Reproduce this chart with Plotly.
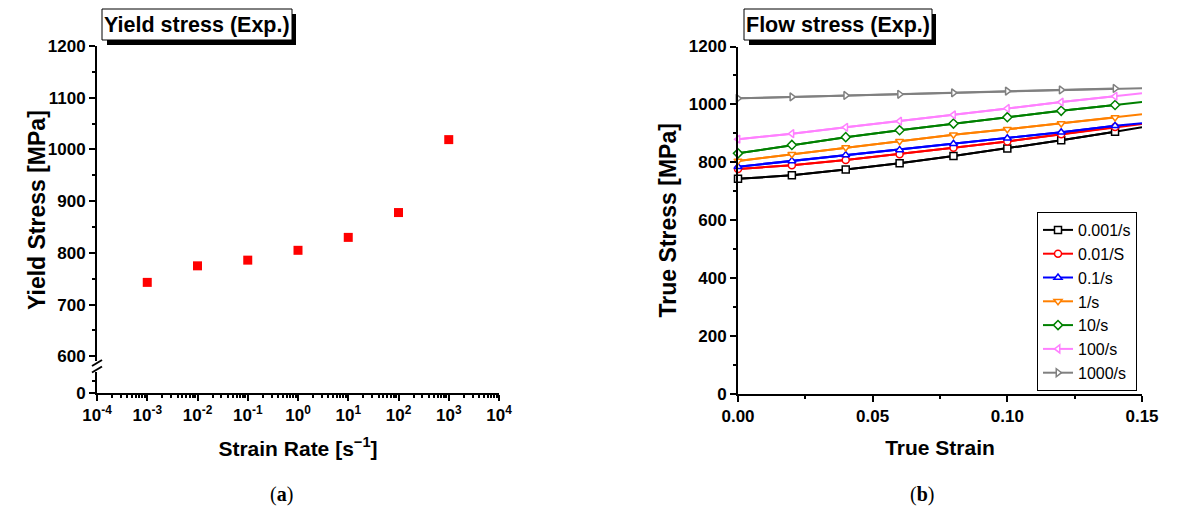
import plotly.graph_objects as go

# ---------------- data ----------------
strain_rates = [1e-3, 1e-2, 1e-1, 1, 10, 100, 1000]
yield_stress = [743, 775, 786, 805, 830, 878, 1019]

true_strain = [0.0, 0.02, 0.04, 0.06, 0.08, 0.10, 0.12, 0.14, 0.15]
flow_0001 = [743, 755, 775, 797, 822, 848, 876, 906, 921]
flow_001 = [777, 790, 808, 828, 850, 872, 897, 922, 932]
flow_01 = [785, 805, 825, 843, 864, 883, 904, 926, 935]
flow_1 = [805, 828, 851, 873, 895, 914, 934, 955, 966]
flow_10 = [831, 860, 887, 911, 934, 956, 978, 998, 1008]
flow_100 = [880, 899, 921, 942, 964, 986, 1008, 1028, 1039]
flow_1000 = [1021, 1026, 1031, 1035, 1040, 1046, 1050, 1055, 1056]

series_names = ["0.001/s", "0.01/S", "0.1/s", "1/s", "10/s", "100/s", "1000/s"]
series_values = [flow_0001, flow_001, flow_01, flow_1, flow_10, flow_100, flow_1000]
series_colors = ["#000000", "#FF0000", "#0000FF", "#FF8000", "#008000", "#FF80FF", "#808080"]
series_symbols = ["square", "circle", "triangle-up", "triangle-down", "diamond",
                  "triangle-left", "triangle-right"]

log_tickvals = [1e-4, 1e-3, 1e-2, 1e-1, 1, 10, 100, 1000, 1e4]
log_ticktext = ["10<sup>-4</sup>", "10<sup>-3</sup>", "10<sup>-2</sup>", "10<sup>-1</sup>",
                "10<sup>0</sup>", "10<sup>1</sup>", "10<sup>2</sup>", "10<sup>3</sup>",
                "10<sup>4</sup>"]

# ---------------- layout helpers ----------------
W, H = 1199, 510
def px(x):
    return x / W
def py(y):
    return 1 - y / H

FONT = "Liberation Sans, Arial, sans-serif"
tickfont = dict(family=FONT, size=17, color="black", weight="bold")
xtitlefont = dict(family=FONT, size=21, color="black", weight="bold")
ytitlefont = dict(family=FONT, size=23, color="black", weight="bold")

fig = go.Figure()

# left panel: yield stress (upper, broken segment of the y axis)
fig.add_trace(go.Scatter(
    x=strain_rates, y=yield_stress, mode="markers", xaxis="x", yaxis="y2",
    marker=dict(symbol="square", size=9, color="#FF0000"), showlegend=False,
    cliponaxis=False))
# invisible anchor trace so the lower (0) segment of the broken axis is drawn
fig.add_trace(go.Scatter(
    x=[strain_rates[0]], y=[0], mode="markers", xaxis="x", yaxis="y",
    marker=dict(opacity=0), showlegend=False, hoverinfo="skip"))

# right panel: flow stress
n_mark = len(true_strain) - 1
for name, vals, col, sym in zip(series_names, series_values, series_colors, series_symbols):
    fig.add_trace(go.Scatter(
        x=true_strain, y=vals, mode="lines", xaxis="x3", yaxis="y3",
        line=dict(color=col, width=2), showlegend=False, hoverinfo="skip"))
    fig.add_trace(go.Scatter(
        x=true_strain[:n_mark], y=vals[:n_mark], mode="lines+markers", name=name,
        xaxis="x3", yaxis="y3", line=dict(color=col, width=2),
        marker=dict(symbol=sym, size=7, color="white", line=dict(color=col, width=1.5)),
        cliponaxis=False))

axis_common = dict(showgrid=False, zeroline=False, showline=True, linecolor="black",
                   linewidth=2, ticks="outside", ticklen=6, tickwidth=2, tickcolor="black",
                   tickfont=tickfont, mirror=False, automargin=False)
minor_common = dict(ticks="outside", ticklen=3, tickwidth=1.5, tickcolor="black")

fig.update_layout(
    width=W, height=H, margin=dict(l=0, r=0, t=0, b=0, autoexpand=False),
    paper_bgcolor="white", plot_bgcolor="white",
    xaxis=dict(type="log", domain=[px(97), px(499)], range=[-4, 4], anchor="y",
               tickvals=log_tickvals, ticktext=log_ticktext,
               minor=dict(dtick="D1", **minor_common),
               title=dict(text="Strain Rate [s<sup>−1</sup>]", font=xtitlefont, standoff=17),
               **axis_common),
    yaxis=dict(domain=[py(393), py(371.5)], range=[0, 44], anchor="x",
               tickvals=[0], ticktext=["0"],
               minor=dict(tickvals=[25], **minor_common),
               **axis_common),
    yaxis2=dict(domain=[py(361), py(46)], range=[591, 1200], anchor="x",
                tickvals=[600, 700, 800, 900, 1000, 1100, 1200],
                minor=dict(dtick=50, **minor_common),
                **axis_common),
    xaxis3=dict(domain=[px(738), px(1142)], range=[0, 0.15], anchor="y3",
                tickvals=[0, 0.05, 0.10, 0.15], tickformat=".2f",
                minor=dict(dtick=0.025, **minor_common),
                title=dict(text="True Strain", font=xtitlefont, standoff=15),
                **axis_common),
    yaxis3=dict(domain=[py(394), py(46.5)], range=[0, 1200], anchor="x3",
                dtick=200,
                minor=dict(dtick=100, **minor_common),
                title=dict(text="True Stress [MPa]", font=ytitlefont, standoff=6),
                **axis_common),
    legend=dict(x=px(1037), y=py(212), xanchor="left", yanchor="top",
                bgcolor="white", bordercolor="black", borderwidth=1,
                font=dict(family=FONT, size=16, color="black"),
                tracegroupgap=0, itemwidth=30),
)

shapes = []
annotations = []

# y-axis title for left panel (spans both segments)
annotations.append(dict(text="Yield Stress [MPa]", x=px(22), y=py(210), xref="paper",
                        yref="paper", showarrow=False, textangle=-90, font=ytitlefont))

# axis break marks
for yb in (363, 369.5):
    shapes.append(dict(type="line", xref="paper", yref="paper",
                       x0=px(92), y0=py(yb + 3), x1=px(102), y1=py(yb - 3),
                       line=dict(color="black", width=2)))

# title boxes with shadow
for (x0, x1, txt) in [(102, 292, "Yield stress (Exp.)"), (744, 932, "Flow stress (Exp.)")]:
    shapes.append(dict(type="rect", xref="paper", yref="paper",
                       x0=px(x0 + 5), x1=px(x1 + 4), y0=py(45), y1=py(14),
                       fillcolor="black", line=dict(width=0), layer="above"))
    shapes.append(dict(type="rect", xref="paper", yref="paper",
                       x0=px(x0), x1=px(x1), y0=py(40), y1=py(9),
                       fillcolor="white", line=dict(color="black", width=1), layer="above"))
    annotations.append(dict(text=txt, x=px((x0 + x1) / 2), y=py(25), xref="paper",
                            yref="paper", showarrow=False, xanchor="center", yanchor="middle",
                            font=dict(family=FONT, size=21.5, color="black", weight="bold")))

# captions
for cx, lab in [(281, "a"), (922, "b")]:
    annotations.append(dict(text=f"(<b>{lab}</b>)", x=px(cx), y=py(494), xref="paper",
                            yref="paper", showarrow=False, xanchor="center", yanchor="middle",
                            font=dict(family="Liberation Serif, serif", size=20, color="black")))

fig.update_layout(shapes=shapes, annotations=annotations)

fig.write_html("out.html")
